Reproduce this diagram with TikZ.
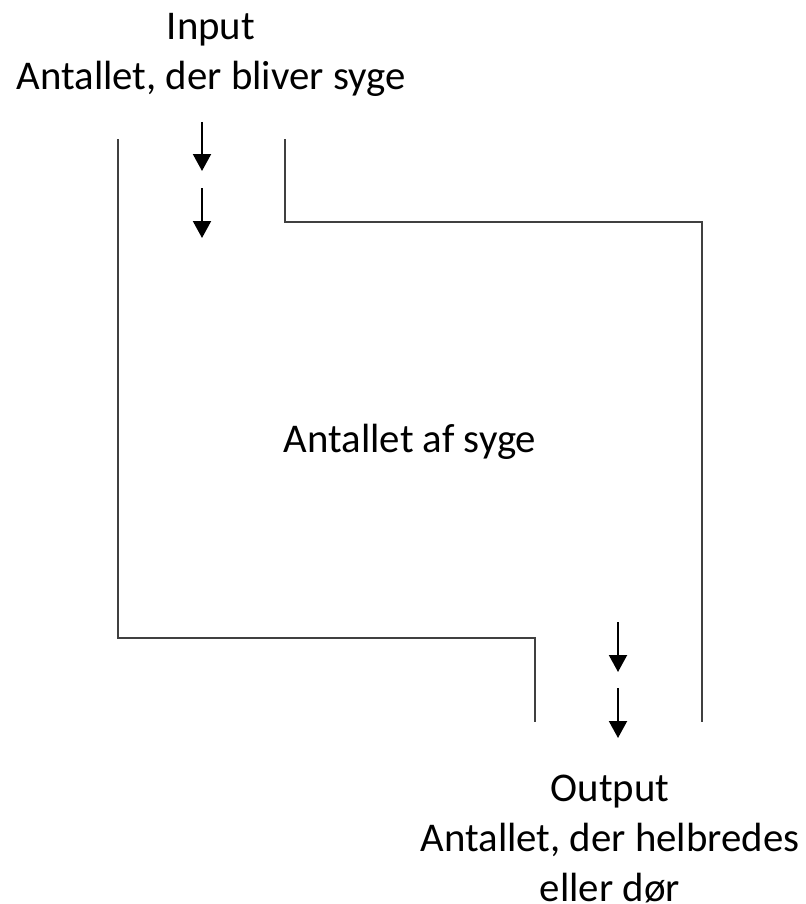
\documentclass[tikz,border=0pt]{standalone}
\usepackage{fontspec}
\setmainfont{Carlito}
\usetikzlibrary{arrows.meta}
\tikzset{
	wall/.style={draw=black!75,line width=0.75pt},
	flow/.style={-{Triangle[width=9pt,length=8.5pt]},line width=1pt},
	label/.style={align=center,inner sep=0pt,font=\fontsize{20.4}{25}\selectfont}
}
\begin{document}
\begin{tikzpicture}[x=0.5pt,y=-0.5pt]
	\useasboundingbox (0,0) rectangle (805,904);
	
	\node[label] (input) at (211,55) {Input\\Antallet, der bliver syge};
	\node[label] (stock) at (410,442) {Antallet af syge};
	\node[label] (output) at (610,839) {Output\\Antallet, der helbredes\\eller d\o r};
	
	% container walls
	\draw[wall] (118,139) -- (118,638) -- (535,638) -- (535,722);
	\draw[wall] (285,139) -- (285,222) -- (702,222) -- (702,722);
	
	% flow in
	\coordinate (in1a) at (202,122);
	\coordinate (in1b) at (202,171);
	\coordinate (in2a) at (202,188);
	\coordinate (in2b) at (202,238);
	\draw[flow] (in1a) -- (in1b);
	\draw[flow] (in2a) -- (in2b);
	
	% flow out
	\coordinate (out1a) at (618,622);
	\coordinate (out1b) at (618,672);
	\coordinate (out2a) at (618,688);
	\coordinate (out2b) at (618,738);
	\draw[flow] (out1a) -- (out1b);
	\draw[flow] (out2a) -- (out2b);
\end{tikzpicture}
\end{document}
